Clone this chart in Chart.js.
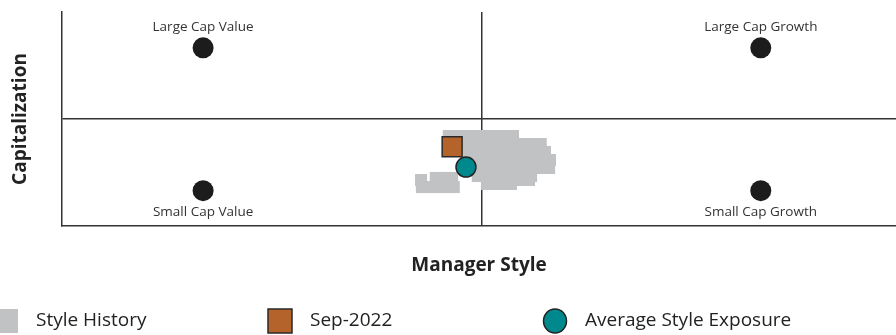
<!DOCTYPE html>
<html>
<head>
<meta charset="utf-8">
<script src="https://cdn.jsdelivr.net/npm/chart.js@4/dist/chart.umd.min.js"></script>
<style>
  html, body { margin: 0; padding: 0; background: #fff; }
  #wrap { position: relative; width: 896px; height: 335px; }
</style>
</head>
<body>
<div id="wrap"><canvas id="style-map"></canvas></div>
<script>
// Style map — manager style vs capitalization

// style history as [x, y]
const styleHistory = [
  [-0.079, -0.159], [-0.060, -0.159], [-0.040, -0.159], [-0.021, -0.159], [-0.002, -0.159],
  [0.017, -0.159], [0.036, -0.159], [0.055, -0.159], [0.074, -0.159],
  [-0.040, -0.234], [-0.021, -0.234], [-0.002, -0.234], [0.017, -0.234], [0.036, -0.234],
  [0.055, -0.234], [0.074, -0.234], [0.093, -0.234], [0.112, -0.234], [0.131, -0.234], [0.140, -0.234],
  [-0.031, -0.308], [-0.012, -0.308], [0.007, -0.308], [0.026, -0.308], [0.045, -0.308],
  [0.064, -0.308], [0.083, -0.308], [0.102, -0.308], [0.121, -0.308], [0.140, -0.308], [0.150, -0.308],
  [-0.010, -0.383], [0.010, -0.383], [0.029, -0.383], [0.048, -0.383], [0.067, -0.383],
  [0.086, -0.383], [0.105, -0.383], [0.124, -0.383], [0.143, -0.383], [0.162, -0.383],
  [-0.010, -0.458], [0.007, -0.458], [0.026, -0.458], [0.045, -0.458], [0.064, -0.458],
  [0.083, -0.458], [0.102, -0.458], [0.121, -0.458], [0.140, -0.458], [0.160, -0.458],
  [-0.010, -0.533], [0.007, -0.533], [0.026, -0.533], [0.045, -0.533], [0.064, -0.533],
  [0.083, -0.533], [0.102, -0.533], [0.117, -0.533],
  [0.093, -0.570], [0.112, -0.570],
  [0.012, -0.607], [0.031, -0.607], [0.050, -0.607], [0.069, -0.607],
  [-0.110, -0.551], [-0.090, -0.551], [-0.071, -0.551], [-0.145, -0.570],
  [-0.143, -0.636], [-0.124, -0.636], [-0.105, -0.636], [-0.086, -0.636], [-0.067, -0.636]
];

const latestLabel = 'Sep-2022';
const latestPoint = [-0.071, -0.259];
const averagePoint = [-0.038, -0.449];

// style corners
const styleLabels = ['Large Cap Value', 'Large Cap Growth', 'Small Cap Value', 'Small Cap Growth'];
const styleX = [-0.664, 0.664, -0.664, 0.664];
const styleY = [0.665, 0.665, -0.670, -0.670];

const xMin = -1, xMax = 0.986, yMin = -1, yMax = 1;

const LINE = '#333';
const FONT = "'Open Sans', sans-serif";

const toXY = p => ({ x: p[0], y: p[1] });

// labels above / below the corner dots
const cornerLabels = {
  id: 'cornerLabels',
  afterDatasetsDraw(chart) {
    const meta = chart.getDatasetMeta(3);
    const ctx = chart.ctx;
    ctx.save();
    ctx.font = `13.5px ${FONT}`;
    ctx.fillStyle = '#333';
    ctx.textAlign = 'center';
    ctx.textBaseline = 'middle';
    meta.data.forEach((pt, i) => {
      const above = styleY[i] > 0;
      ctx.fillText(styleLabels[i], pt.x, above ? pt.y - 21 : pt.y + 21);
    });
    ctx.restore();
  }
};

// bottom legend in fixed columns
const columnLegend = {
  id: 'columnLegend',
  afterDraw(chart) {
    const ctx = chart.ctx;
    const ds = chart.data.datasets;
    const items = [
      { d: ds[0], x: -6, shape: 'rect' },
      { d: ds[1], x: 268, shape: 'rect' },
      { d: ds[2], x: 543, shape: 'circle' }
    ];
    const top = 309, size = 24;
    ctx.save();
    items.forEach(it => {
      ctx.fillStyle = it.d.backgroundColor;
      ctx.strokeStyle = it.d.borderColor;
      ctx.lineWidth = it.d.borderWidth;
      ctx.beginPath();
      if (it.shape === 'rect') {
        ctx.rect(it.x, top, size, size);
      } else {
        ctx.ellipse(it.x + size / 2, top + size / 2, size / 2 - 0.5, size / 2, 0, 0, Math.PI * 2);
      }
      ctx.fill();
      if (it.d.borderWidth) ctx.stroke();
      ctx.fillStyle = '#222';
      ctx.font = `19px ${FONT}`;
      ctx.textAlign = 'left';
      ctx.textBaseline = 'middle';
      ctx.fillText(it.d.label, it.x + size + 18, top + size / 2);
    });
    ctx.restore();
  }
};

const onlyZero = c => (c.tick && c.tick.value === 0 ? LINE : 'rgba(0,0,0,0)');

new Chart(document.getElementById('style-map'), {
  type: 'scatter',
  data: {
    datasets: [
      {
        label: 'Style History',
        data: styleHistory.map(toXY),
        pointStyle: 'rect',
        radius: 8.5,
        hoverRadius: 8.5,
        backgroundColor: '#c1c2c4',
        borderColor: '#c1c2c4',
        borderWidth: 0,
        order: 4
      },
      {
        label: latestLabel,
        data: [toXY(latestPoint)],
        pointStyle: 'rect',
        radius: 14.1,
        hoverRadius: 14.1,
        backgroundColor: '#b4632a',
        borderColor: '#2a2a2a',
        borderWidth: 1.5,
        order: 2
      },
      {
        label: 'Average Style Exposure',
        data: [toXY(averagePoint)],
        pointStyle: 'circle',
        radius: 10,
        hoverRadius: 10,
        backgroundColor: '#00898c',
        borderColor: '#222',
        borderWidth: 1.5,
        order: 1
      },
      {
        label: 'Style Corners',
        data: styleX.map((x, i) => ({ x: x, y: styleY[i] })),
        pointStyle: 'circle',
        radius: 10.5,
        hoverRadius: 10.5,
        backgroundColor: '#1c1c1c',
        borderWidth: 0,
        order: 3
      }
    ]
  },
  options: {
    responsive: true,
    maintainAspectRatio: false,
    animation: false,
    events: [],
    layout: { autoPadding: false, padding: { top: 12, right: 0, bottom: 0, left: 0 } },
    plugins: {
      legend: { display: false },
      tooltip: { enabled: false }
    },
    scales: {
      x: {
        type: 'linear',
        min: xMin,
        max: xMax,
        ticks: { display: false, stepSize: 1 },
        grid: { color: onlyZero, lineWidth: 1.5, drawTicks: false },
        border: { display: true, color: LINE, width: 1.5 },
        title: {
          display: true,
          text: 'Manager Style',
          color: '#222',
          font: { family: FONT, size: 19, weight: 'bold' },
          padding: { top: 0, bottom: 58 }
        },
        afterFit: s => { s.height = 109; }
      },
      y: {
        type: 'linear',
        min: yMin,
        max: yMax,
        ticks: { display: false, stepSize: 1 },
        grid: { color: onlyZero, lineWidth: 1.5, drawTicks: false },
        border: { display: true, color: LINE, width: 1.5 },
        title: {
          display: true,
          text: 'Capitalization',
          color: '#222',
          font: { family: FONT, size: 19, weight: 'bold' },
          padding: { top: 9, bottom: 0 }
        },
        afterFit: s => { s.width = 62; }
      }
    }
  },
  plugins: [cornerLabels, columnLegend]
});
</script>
</body>
</html>
